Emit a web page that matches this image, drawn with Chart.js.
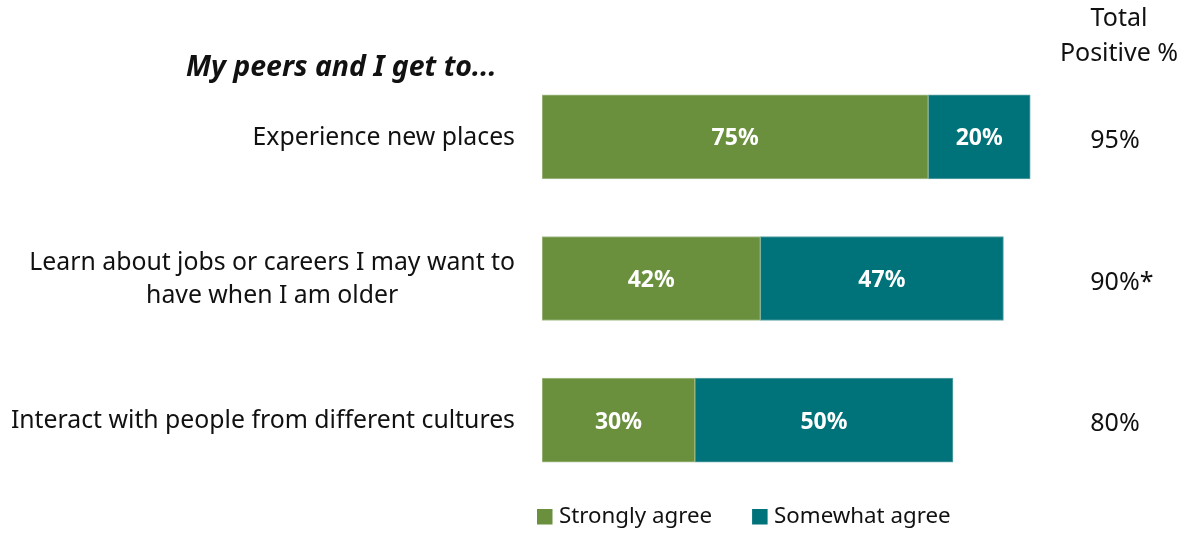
<!DOCTYPE html>
<html>
<head>
<meta charset="utf-8">
<script src="https://cdn.jsdelivr.net/npm/chart.js@4.4.1/dist/chart.umd.min.js"></script>
<style>
  html, body { margin: 0; padding: 0; background: #fff; }
  #wrap { width: 1186px; height: 533px; position: relative; }
</style>
</head>
<body>
<div id="wrap"><canvas id="myChart"></canvas></div>
<script>
const categories = [
  ['Experience new places'],
  ['Learn about jobs or careers I may want to', 'have when I am older'],
  ['Interact with people from different cultures']
];
const stronglyAgree = [75, 42.4, 29.7];
const somewhatAgree = [19.8, 47.2, 50.1];
const totalPositive = ['95%', '90%*', '80%'];
const seriesNames = ['Strongly agree', 'Somewhat agree'];

const FONT = '"Noto Sans", "Open Sans", sans-serif';
const GREEN = '#6a903e';
const TEAL = '#00727a';

// labels, totals, title and legend drawn straight onto the canvas
const textPlugin = {
  id: 'textPlugin',
  afterDatasetsDraw(chart) {
    const ctx = chart.ctx;
    const yScale = chart.scales.y;
    ctx.save();

    // category labels (right aligned block, lines centred inside it)
    ctx.font = '24.8px ' + FONT;
    ctx.fillStyle = '#111';
    ctx.textBaseline = 'middle';
    ctx.textAlign = 'center';
    const rightEdge = 515;
    const lineH = 33;
    categories.forEach((lines, i) => {
      const yc = yScale.getPixelForValue(i);
      const maxW = Math.max(...lines.map(l => ctx.measureText(l).width));
      const cx = rightEdge - maxW / 2;
      lines.forEach((l, j) => {
        ctx.fillText(l, cx, yc + 1 + (j - (lines.length - 1) / 2) * lineH);
      });
    });

    // value labels inside segments
    ctx.font = 'bold 23px ' + FONT;
    ctx.fillStyle = '#fff';
    chart.data.datasets.forEach((ds, d) => {
      chart.getDatasetMeta(d).data.forEach((bar, i) => {
        const x = (bar.x + bar.base) / 2;
        ctx.fillText(Math.round(ds.data[i]) + '%', x, bar.y + 2);
      });
    });

    // total positive column
    ctx.font = '25px ' + FONT;
    ctx.fillStyle = '#111';
    totalPositive.forEach((t, i) => {
      const yc = yScale.getPixelForValue(i);
      ctx.textAlign = 'left';
      const w = ctx.measureText(t.replace('*', '')).width;
      ctx.fillText(t, 1115 - w / 2, yc + 4);
    });
    ctx.textAlign = 'center';
    ctx.fillText('Total', 1119, 19);
    ctx.fillText('Positive %', 1119, 54);

    // subtitle
    ctx.font = 'italic bold 28.5px ' + FONT;
    ctx.textAlign = 'left';
    ctx.fillText('My peers and I get to...', 186, 68);

    // legend
    ctx.font = '22.3px ' + FONT;
    let lx = 537;
    const ly = 517;
    chart.data.datasets.forEach((ds, d) => {
      ctx.fillStyle = ds.backgroundColor;
      ctx.fillRect(lx, ly - 8, 15.5, 15.5);
      ctx.fillStyle = '#111';
      ctx.fillText(ds.label, lx + 22, ly);
      lx += 22 + ctx.measureText(ds.label).width + 40;
    });
    ctx.restore();
  }
};

new Chart(document.getElementById('myChart'), {
  type: 'bar',
  data: {
    labels: categories,
    datasets: [
      {
        label: seriesNames[0],
        data: stronglyAgree,
        backgroundColor: GREEN,
        borderColor: '#a7bf8c',
        borderWidth: 1,
        borderSkipped: false
      },
      {
        label: seriesNames[1],
        data: somewhatAgree,
        backgroundColor: TEAL,
        borderColor: '#5fa3a6',
        borderWidth: 1,
        borderSkipped: false
      }
    ]
  },
  options: {
    indexAxis: 'y',
    responsive: true,
    maintainAspectRatio: false,
    animation: false,
    layout: { padding: { left: 542, right: 129, top: 66, bottom: 42 } },
    barThickness: 84,
    scales: {
      x: { stacked: true, min: 0, max: 100, display: false },
      y: { stacked: true, display: false }
    },
    plugins: {
      legend: { display: false },
      tooltip: { enabled: false }
    }
  },
  plugins: [textPlugin]
});
</script>
</body>
</html>
